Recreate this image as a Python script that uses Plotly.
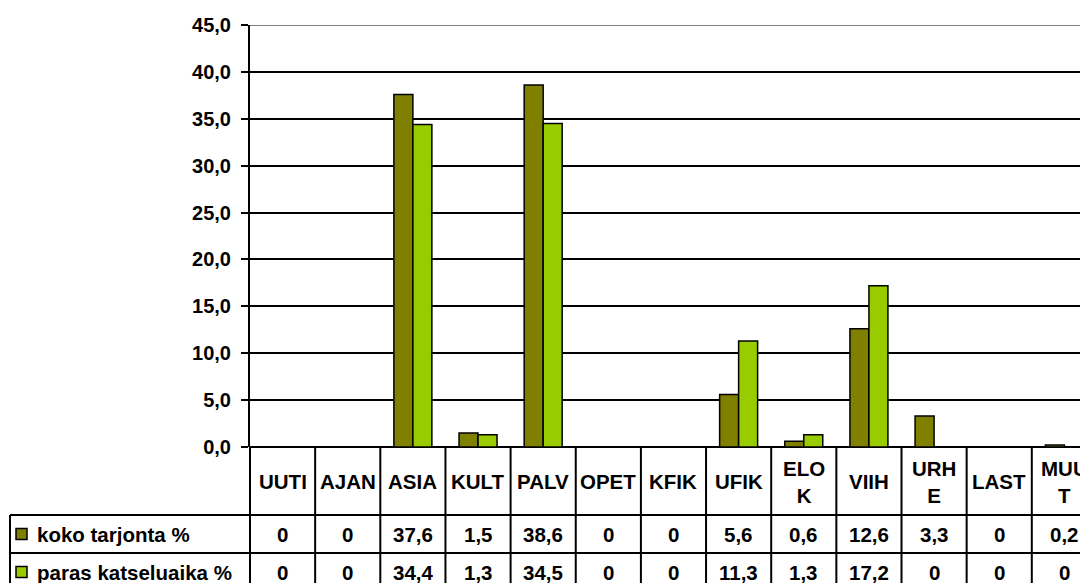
import plotly.graph_objects as go

# ---------------- data ----------------
categories = ["UUTI", "AJAN", "ASIA", "KULT", "PALV", "OPET", "KFIK",
              "UFIK", "ELOK", "VIIH", "URHE", "LAST", "MUUT"]
header_labels = ["UUTI", "AJAN", "ASIA", "KULT", "PALV", "OPET", "KFIK",
                 "UFIK", "ELO<br>K", "VIIH", "URH<br>E", "LAST", "MUU<br>T"]
series_names = ["koko tarjonta %", "paras katseluaika %"]
koko_tarjonta = [0, 0, 37.6, 1.5, 38.6, 0, 0, 5.6, 0.6, 12.6, 3.3, 0, 0.2]
paras_katseluaika = [0, 0, 34.4, 1.3, 34.5, 0, 0, 11.3, 1.3, 17.2, 0, 0, 0]
y_ticks = [0, 5, 10, 15, 20, 25, 30, 35, 40, 45]

# ---------------- styling / layout geometry ----------------
# page body has an 8px default margin; geometry below is in page pixels
OFF = 8
PAGE_W, PAGE_H = 1088, 583
PLOT_L, PLOT_T, PLOT_B = 250, 25, 447          # page px of plot area
W, H = PAGE_W - OFF, PAGE_H - OFF
L, T = PLOT_L - OFF, PLOT_T - OFF
B = H - (PLOT_B - OFF)
PW, PH = W - L, (PLOT_B - PLOT_T)
COL_W = 65.15
XMIN = -0.5
XMAX = XMIN + PW / COL_W
colors = ["#808000", "#99CC00"]
FONT = "Arial, Liberation Sans, sans-serif"


def px_x(px):
    return (px - PLOT_L) / PW


def px_y(py):
    return (PLOT_B - py) / PH


def cat_x(k):
    return (k - XMIN) / (XMAX - XMIN)


def fmt(v):
    return "0" if v == 0 else f"{v:.1f}".replace(".", ",")


fig = go.Figure()
for name, vals, col in zip(series_names, [koko_tarjonta, paras_katseluaika], colors):
    fig.add_trace(go.Bar(
        x=list(range(len(categories))), y=vals, name=name,
        marker=dict(color=col, line=dict(color="black", width=1.5)),
        showlegend=False, hoverinfo="skip"))

shapes = []
line = dict(color="black", width=2)
# top gridline in gray
shapes.append(dict(type="line", xref="paper", yref="y", x0=0, x1=1, y0=45, y1=45,
                   line=dict(color="#808080", width=2), layer="above"))
# table: vertical lines
for k in range(len(categories) + 1):
    xb = cat_x(k - 0.5)
    shapes.append(dict(type="line", xref="paper", yref="paper", x0=xb, x1=xb,
                       y0=px_y(447), y1=px_y(600), line=line))
# left box
shapes.append(dict(type="line", xref="paper", yref="paper", x0=px_x(10), x1=px_x(10),
                   y0=px_y(515), y1=px_y(600), line=line))
for py in [515, 553]:
    shapes.append(dict(type="line", xref="paper", yref="paper", x0=px_x(10), x1=px_x(1100),
                       y0=px_y(py), y1=px_y(py), line=line))
# legend keys
row_centers = [534, 572]
for rc, col in zip(row_centers, colors):
    shapes.append(dict(type="rect", xref="paper", yref="paper",
                       x0=px_x(16), x1=px_x(27), y0=px_y(rc - 5.5), y1=px_y(rc + 5.5),
                       fillcolor=col, line=dict(color="black", width=1.5)))

annotations = []
tfont = dict(family=FONT, size=20.5, color="black", weight="bold")
for k, lab in enumerate(header_labels):
    annotations.append(dict(xref="paper", yref="paper", x=cat_x(k), y=px_y(481.5),
                            text=lab, showarrow=False, font=tfont,
                            xanchor="center", yanchor="middle"))
for rc, vals in zip(row_centers, [koko_tarjonta, paras_katseluaika]):
    for k, v in enumerate(vals):
        annotations.append(dict(xref="paper", yref="paper", x=cat_x(k), y=px_y(rc),
                                text=fmt(v), showarrow=False, font=tfont,
                                xanchor="center", yanchor="middle"))
for rc, name in zip(row_centers, series_names):
    annotations.append(dict(xref="paper", yref="paper", x=px_x(35), y=px_y(rc),
                            text=name, showarrow=False, font=tfont,
                            xanchor="left", yanchor="middle"))

fig.update_layout(
    width=W, height=H,
    margin=dict(l=L, r=0, t=T, b=B, pad=0, autoexpand=False),
    paper_bgcolor="white", plot_bgcolor="white",
    separators=", ",
    barmode="group", bargap=0.417, bargroupgap=0,
    shapes=shapes, annotations=annotations,
    xaxis=dict(range=[XMIN, XMAX], showticklabels=False, showgrid=False,
               zeroline=False, showline=False, ticks="", fixedrange=True,
               automargin=False),
    yaxis=dict(range=[0, 45], tickvals=y_ticks, tickformat=".1f",
               showgrid=True, gridcolor="black", gridwidth=2,
               zeroline=True, zerolinecolor="black", zerolinewidth=2,
               showline=True, linecolor="black", linewidth=2,
               ticks="outside", ticklen=7, tickwidth=2, tickcolor="black",
               ticklabelstandoff=6, automargin=False,
               tickfont=dict(family=FONT, size=20, color="black", weight="bold"),
               fixedrange=True),
)

fig.write_html("out.html")
